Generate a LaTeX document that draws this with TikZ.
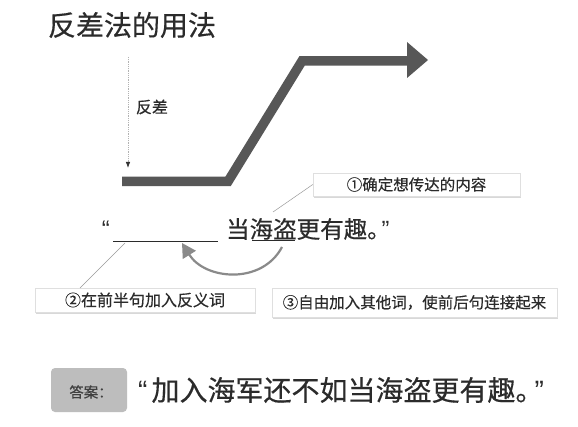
\documentclass[tikz,border=0pt]{standalone}
\usepackage{fontspec}
\setmainfont{Noto Sans CJK SC}[FakeBold=0.4]
\newfontfamily\qf{Liberation Sans}
\usetikzlibrary{arrows.meta,shadows}
\definecolor{txt}{HTML}{2B2B2B}
\definecolor{bar}{HTML}{575757}
\definecolor{curv}{HTML}{8A8A8A}
\definecolor{ansbox}{HTML}{BDBDBD}
\tikzset{
  fsz/.style={font=\fontsize{#1}{#1}\selectfont},
  tagbox/.style={draw=gray!25, fill=white, inner sep=0pt, text=txt,
    drop shadow={opacity=0.3, shadow xshift=1.2pt, shadow yshift=-1.8pt}},
  leader/.style={draw=gray!80, line width=0.5pt},
}
\begin{document}
\begin{tikzpicture}[x=1pt,y=-1pt]
\useasboundingbox (0,0) rectangle (578,427);
\fill[white] (0,0) rectangle (578,427);
% title
\node[fsz=28, text=txt] (title) at (132,25) {反差法的用法};
% dotted arrow
\coordinate (dtop) at (128,57);
\coordinate (dbot) at (128,168);
\draw[gray!60, line width=0.8pt, densely dotted, -{Latex[length=6pt,width=4.5pt,color=black!80]}] (dtop) -- (dbot);
\node[fsz=16, text=txt] (fancha) at (152,107) {反差};
% thick path
\coordinate (p1) at (122,181.5);
\coordinate (p2) at (228,181.5);
\coordinate (p3) at (302,61);
\coordinate (p4) at (408,61);
\coordinate (h1) at (407,42);
\coordinate (h2) at (428,60);
\coordinate (h3) at (407,78);
\draw[bar, line width=9.5pt, miter limit=10] (p1) -- (p2) -- (p3) -- (p4);
\fill[bar] (h1) -- (h2) -- (h3) -- cycle;
% boxes
\node[tagbox, minimum width=207pt, minimum height=23pt, fsz=15.5] (box1) at (416.5,184.5) {①确定想传达的内容};
\node[tagbox, minimum width=220pt, minimum height=24pt, fsz=16] (box2) at (145,300) {②在前半句加入反义词};
\node[tagbox, minimum width=285pt, minimum height=29pt, fsz=15.5] (box3) at (414.5,302.5) {③自由加入其他词，使前后句连接起来};
% sentence
\node[fsz=24, text=txt, anchor=east, inner sep=0pt] (oq) at (110,229) {\qf “};
\coordinate (u1) at (113,242);
\coordinate (u2) at (218,242);
\draw[txt, line width=1pt] (u1) -- (u2);
\node[fsz=23.5, text=txt, anchor=west, inner sep=0pt] (sent) at (226,229) {当海盗更有趣。\kern-9pt{\qf ”}};
\coordinate (v1) at (252,240);
\coordinate (v2) at (295,240);
\draw[txt, line width=0.8pt] (v1) -- (v2);
% curved arrow
\coordinate (c1) at (282,247);
\coordinate (c2) at (182,243);
\draw[curv, line width=2.2pt, -{Triangle[length=14pt,width=15pt]}] (c1) .. controls (262,285) and (205,280) .. (c2);
% leader lines
\coordinate (l1) at (273,212);
\coordinate (l2a) at (125,243);
\coordinate (l2b) at (80,288);
\draw[leader] (box1.west) -- (l1);
\draw[leader] (l2a) -- (l2b);
% answer
\node[fill=ansbox, rounded corners=4pt, minimum width=76pt, minimum height=44pt, inner sep=0pt] (abox) at (89,390) {};
\node[fsz=14.5, text=black!75] (alabel) at (91,392) {答案：};
\node[fsz=28, text=txt, anchor=west, inner sep=0pt] (ans) at (138,390) {{\qf “}\kern4pt 加入海军还不如当海盗更有趣。\kern-9pt{\qf ”}};
\end{tikzpicture}
\end{document}
